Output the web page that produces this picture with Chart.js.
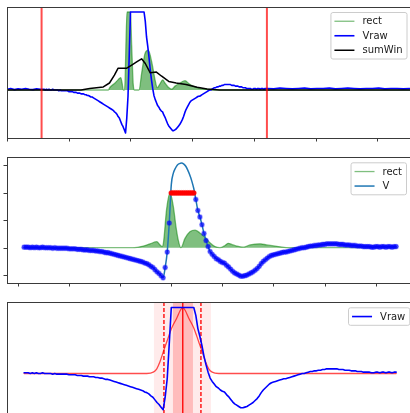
<!DOCTYPE html>
<html><head><meta charset="utf-8">
<script src="https://cdn.jsdelivr.net/npm/chart.js@4"></script>
<style>
html,body{margin:0;padding:0;width:410px;height:413px;overflow:hidden;background:#fff}
canvas{position:absolute;left:0}
</style></head><body>
<canvas id="c1" width="430" height="145" style="top:0;width:430px;height:145px"></canvas>
<canvas id="c2" width="430" height="145" style="top:145px;width:430px;height:145px"></canvas>
<canvas id="c3" width="430" height="130" style="top:290px;width:430px;height:130px"></canvas>
<script>
// ---------- data ----------
// raw signal, one value per sample, samples start at index 3 (panel 2/3 x units)
const vrawStart = 3;
const vraw = [
 0.01, 0.01, 0.01, 0.00, 0.01, 0.00, 0.01, 0.00, 0.00, 0.01,
 0.00, 0.00, 0.00, 0.00, -0.01, 0.00, -0.01, -0.01, -0.01, -0.01,
 -0.01, -0.01, -0.02, -0.02, -0.02, -0.02, -0.03, -0.03, -0.03, -0.04,
 -0.04, -0.04, -0.05, -0.05, -0.05, -0.06, -0.06, -0.07, -0.07, -0.08,
 -0.09, -0.09, -0.10, -0.11, -0.12, -0.13, -0.14, -0.15, -0.16, -0.17,
 -0.18, -0.19, -0.20, -0.21, -0.22, -0.23, -0.24, -0.25, -0.26, -0.28,
 -0.29, -0.31, -0.34, -0.36, -0.40, -0.44, -0.47, -0.51, -0.55, -0.36,
 -0.08, 0.45, 1, 1, 1, 1, 1, 1, 1, 1,
 1, 1, 1, 1, 0.88, 0.68, 0.56, 0.42, 0.26, 0.13,
 0.02, -0.07, -0.12, -0.16, -0.20, -0.22, -0.25, -0.27, -0.28, -0.32,
 -0.35, -0.39, -0.43, -0.46, -0.48, -0.50, -0.52, -0.52, -0.51, -0.50,
 -0.48, -0.46, -0.44, -0.41, -0.38, -0.34, -0.29, -0.25, -0.22, -0.19,
 -0.16, -0.14, -0.13, -0.12, -0.11, -0.10, -0.09, -0.08, -0.08, -0.07,
 -0.06, -0.05, -0.04, -0.03, -0.02, -0.01, 0.00, 0.00, 0.01, 0.02,
 0.03, 0.03, 0.04, 0.04, 0.05, 0.05, 0.06, 0.06, 0.07, 0.07,
 0.07, 0.07, 0.07, 0.07, 0.06, 0.06, 0.06, 0.05, 0.05, 0.05,
 0.04, 0.04, 0.04, 0.03, 0.03, 0.03, 0.02, 0.02, 0.02, 0.02,
 0.01, 0.01, 0.02, 0.02, 0.01, 0.02, 0.02, 0.01, 0.02, 0.02,
 0.01, 0.02, 0.02
];
const satLevel = 1;
// reconstructed values over the saturated samples
const vfitX = [75, 76, 77, 78, 79, 80, 81, 82, 83, 84, 85, 86];
const vfitY = [1.15, 1.36, 1.45, 1.51, 1.535, 1.545, 1.53, 1.49, 1.42, 1.33, 1.22, 1.08];

// panel 2 "rect"
const rect2X = [3, 56, 61.3, 64.6, 67.9, 69.5, 70.5, 71.2, 72.7, 74.4, 76, 77.3, 78.4, 79.7, 81.7, 84.1, 86.6, 89, 91.5, 93.9, 96.4, 98.8, 101.3, 102.9, 104.5, 107, 110.2, 113.5, 118.4, 121.7, 126.6, 133.1, 185.4];
const rect2Y = [0, 0, 0.03, 0.07, 0.11, 0.05, 0.02, 0.1, 0.7, 1.0, 0.75, 0.38, 0.14, 0, 0.17, 0.29, 0.32, 0.27, 0.19, 0.09, 0.02, 0, 0.04, 0.08, 0.06, 0.03, 0.01, 0.05, 0.07, 0.05, 0.025, 0, 0];

// panel 1 (own x units): window offset and the signal outside the window
const p1Offset = 25;
const p1WindowLines = [28, 210.5];
const preX = [0, 3, 6, 9, 12, 15, 18, 21, 24, 27];
const preY = [0.01, 0.02, 0.005, 0.015, 0.01, 0.02, 0.01, 0.005, 0.015, 0.01];
const postX = [211, 216, 221, 226, 231, 236, 241, 246, 251, 256, 261, 266, 271, 276, 281, 286, 291, 296, 301, 306, 311, 316, 321, 326];
const postY = [0.02, 0.015, 0.025, 0.02, 0.015, 0.02, 0.025, 0.015, 0.02, 0.02, 0.025, 0.015, 0.02, 0.025, 0.02, 0.015, 0.02, 0.02, 0.025, 0.015, 0.02, 0.02, 0.015, 0.02];
const rect1X = [0, 82, 83.4, 87.5, 89.9, 92.1, 93.1, 94.2, 95.2, 97.2, 100, 101, 102.3, 103.3, 106.9, 109.1, 111.8, 114.4, 117.2, 119.9, 121.7, 123.9, 126.1, 127.9, 130.6, 133.4, 136.1, 140.1, 144.2, 147.4, 150.9, 156.3, 161.7, 168.5, 328];
const rect1Y = [0, 0, 0.035, 0.09, 0.13, 0.16, 0.1, 0, 0, 1.0, 1.0, 0.56, 0.06, 0, 0, 0.22, 0.47, 0.51, 0.36, 0.13, 0.03, 0.08, 0.13, 0.09, 0.035, 0.01, 0.05, 0.09, 0.12, 0.08, 0.05, 0.02, 0.01, 0, 0];
const sumX = [0, 60, 67, 78, 83, 87, 90, 97, 101, 105, 109, 112, 116, 121, 125, 131, 137, 145, 154, 162, 172, 328];
const sumY = [0, 0, 0.02, 0.04, 0.09, 0.19, 0.28, 0.28, 0.32, 0.36, 0.40, 0.34, 0.22, 0.23, 0.18, 0.11, 0.09, 0.07, 0.035, 0.013, 0, 0];

// panel 3 window curve and markers
const winX = [3, 63, 66.2, 67.9, 69.5, 71.1, 72.8, 75.2, 77.7, 79.3, 80.6, 81.9, 83.5, 86, 88.4, 90.1, 91.7, 93.3, 95, 98.2, 185];
const winY = [0, 0, 0.02, 0.07, 0.18, 0.33, 0.48, 0.69, 0.84, 0.95, 1.0, 0.95, 0.84, 0.69, 0.48, 0.33, 0.18, 0.07, 0.02, 0, 0];
const p3Center = 80.6;
const p3Dashed = [71.4, 89.5];
const p3BandWide = [66.5, 94.4];
const p3BandNarrow = [75.8, 85.6];

// tick values
const p1XTicks = [0, 50, 100, 150, 200, 250, 300];
const p2XTicks = [0, 25, 50, 75, 100, 125, 150, 175];
const p2YTicks = [-0.5, 0, 0.5, 1, 1.5];

// ---------- build point lists ----------
const pts = (xs, ys) => xs.map((x, i) => ({x, y: ys[i]}));
const vrawPts = vraw.map((y, i) => ({x: vrawStart + i, y}));
const fitMap = new Map(vfitX.map((x, i) => [x, vfitY[i]]));
const vPts = vrawPts.map(p => fitMap.has(p.x) ? {x: p.x, y: fitMap.get(p.x)} : p);
const dotPts = vrawPts.filter(p => p.y < satLevel);
const satPts = vrawPts.filter(p => p.y >= satLevel);
const p1Vraw = pts(preX, preY).concat(vrawPts.map(p => ({x: p.x + p1Offset, y: p.y})), pts(postX, postY));

// ---------- plugin: frame, ticks, lines, bands, legend ----------
function drawVlines(chart, o) {
  const {ctx, chartArea: a, scales: {x}} = chart;
  (o.vlines || []).forEach(l => {
    const px = x.getPixelForValue(l.x);
    ctx.save();
    ctx.strokeStyle = l.color; ctx.lineWidth = l.width;
    ctx.setLineDash(l.dash || []);
    ctx.beginPath(); ctx.moveTo(px, a.top); ctx.lineTo(px, a.bottom); ctx.stroke();
    ctx.restore();
  });
}
const panelPlugin = {
  id: 'panel',
  beforeDatasetsDraw(chart, args, o) {
    const {ctx, chartArea: a, scales: {x}} = chart;
    ctx.save();
    (o.bands || []).forEach(b => {
      const x0 = x.getPixelForValue(b.from), x1 = x.getPixelForValue(b.to);
      ctx.fillStyle = b.color;
      ctx.fillRect(x0, a.top, x1 - x0, a.bottom - a.top);
    });
    ctx.restore();
    if (!o.linesOnTop) drawVlines(chart, o);
  },
  afterDatasetsDraw(chart, args, o) {
    const {ctx, chartArea: a, scales: {x, y}} = chart;
    if (o.linesOnTop) drawVlines(chart, o);
    ctx.save();
    ctx.strokeStyle = '#3a3a3a'; ctx.lineWidth = 1;
    ctx.strokeRect(a.left + 0.5, a.top + 0.5, a.right - a.left, a.bottom - a.top);
    ctx.beginPath();
    (o.xTicks || []).forEach(v => {
      const px = Math.round(x.getPixelForValue(v)) + 0.5;
      ctx.moveTo(px, a.bottom); ctx.lineTo(px, a.bottom + 3.5);
    });
    (o.yTicks || []).forEach(v => {
      const py = Math.round(y.getPixelForValue(v)) + 0.5;
      ctx.moveTo(a.left - 3.5, py); ctx.lineTo(a.left, py);
    });
    ctx.stroke();
    // legend
    const items = chart.data.datasets.filter(d => d.label);
    if (items.length) {
      ctx.font = '10px "DejaVu Sans"';
      const tw = Math.max(...items.map(d => ctx.measureText(d.label).width));
      const pad = 4, hl = 20, gap = 8, rowH = 9.5, sp = 5;
      const w = pad + hl + gap + tw + pad;
      const h = pad * 2 + items.length * rowH + (items.length - 1) * sp;
      const x0 = o.legendRight - w, y0 = o.legendTop;
      ctx.beginPath();
      ctx.roundRect(x0 + 0.5, y0 + 0.5, w, h, 2);
      ctx.fillStyle = 'rgba(255,255,255,0.8)'; ctx.fill();
      ctx.strokeStyle = '#cccccc'; ctx.lineWidth = 1; ctx.stroke();
      items.forEach((d, i) => {
        const cy = y0 + pad + rowH / 2 + i * (rowH + sp) + 0.5;
        ctx.strokeStyle = d.borderColor; ctx.lineWidth = d.borderWidth;
        ctx.beginPath(); ctx.moveTo(x0 + pad, cy); ctx.lineTo(x0 + pad + hl, cy); ctx.stroke();
        ctx.fillStyle = '#1a1a1a'; ctx.textBaseline = 'middle'; ctx.textAlign = 'left';
        ctx.fillText(d.label, x0 + pad + hl + gap, cy + 0.5);
      });
    }
    ctx.restore();
  }
};

function baseOptions(xmin, xmax, ymin, ymax, pad, panelOpts) {
  return {
    responsive: false, animation: false, devicePixelRatio: 1, events: [],
    layout: {padding: pad},
    scales: {
      x: {type: 'linear', display: false, min: xmin, max: xmax},
      y: {type: 'linear', display: false, min: ymin, max: ymax}
    },
    elements: {point: {radius: 0}, line: {borderCapStyle: 'round', borderJoinStyle: 'round'}},
    plugins: {legend: {display: false}, tooltip: {enabled: false}, panel: panelOpts}
  };
}

// ---------- panel 1 ----------
new Chart(document.getElementById('c1'), {
  type: 'line',
  data: {datasets: [
    {label: 'rect', data: pts(rect1X, rect1Y), borderColor: 'rgba(0,128,0,0.5)', backgroundColor: 'rgba(0,128,0,0.5)',
     borderWidth: 1.3, fill: 'origin', cubicInterpolationMode: 'monotone', order: 3},
    {label: 'Vraw', data: p1Vraw, borderColor: '#0000ff', borderWidth: 1.6, fill: false, order: 2},
    {label: 'sumWin', data: pts(sumX, sumY), borderColor: '#000000', borderWidth: 1.5, fill: false, order: 1}
  ]},
  options: baseOptions(0, 328, -0.615, 1.064, {left: 7, top: 7, right: 18, bottom: 7}, {
    xTicks: p1XTicks, linesOnTop: true,
    vlines: p1WindowLines.map(v => ({x: v, color: 'rgba(255,0,0,0.7)', width: 2})),
    legendRight: 406.5, legendTop: 12
  }),
  plugins: [panelPlugin]
});

// ---------- panel 2 ----------
new Chart(document.getElementById('c2'), {
  type: 'line',
  data: {datasets: [
    {label: 'rect', data: pts(rect2X, rect2Y), borderColor: 'rgba(0,128,0,0.5)', backgroundColor: 'rgba(0,128,0,0.5)',
     borderWidth: 1.3, fill: 'origin', cubicInterpolationMode: 'monotone', order: 4},
    {label: 'V', data: vPts, borderColor: '#1f77b4', borderWidth: 1.5, fill: false, cubicInterpolationMode: 'monotone', order: 3},
    {data: dotPts, showLine: false, pointRadius: 2.3, pointBackgroundColor: 'rgba(0,0,255,0.7)',
     pointBorderColor: 'rgba(0,0,255,0.3)', pointBorderWidth: 1.2, order: 2},
    {data: satPts, showLine: false, pointRadius: 2.5, pointBackgroundColor: 'rgba(255,0,0,0.95)',
     pointBorderColor: 'rgba(255,0,0,0.4)', pointBorderWidth: 1, order: 1}
  ]},
  options: baseOptions(-5.38, 192.76, -0.644, 1.655, {left: 7, top: 12, right: 18, bottom: 7}, {
    xTicks: p2XTicks, yTicks: p2YTicks,
    legendRight: 406, legendTop: 17.3
  }),
  plugins: [panelPlugin]
});

// ---------- panel 3 ----------
new Chart(document.getElementById('c3'), {
  type: 'line',
  data: {datasets: [
    {data: pts(winX, winY), borderColor: 'rgba(255,0,0,0.7)', borderWidth: 1.3, fill: false, cubicInterpolationMode: 'monotone', order: 2},
    {label: 'Vraw', data: vrawPts, borderColor: '#0000ff', borderWidth: 1.6, fill: false, order: 1}
  ]},
  options: baseOptions(-5.38, 192.76, -0.614, 1.083, {left: 7, top: 12, right: 18, bottom: 6}, {
    bands: [
      {from: p3BandWide[0], to: p3BandWide[1], color: 'rgba(255,0,0,0.08)'},
      {from: p3BandNarrow[0], to: p3BandNarrow[1], color: 'rgba(255,0,0,0.2)'}
    ],
    vlines: [
      {x: p3Center, color: 'rgba(255,0,0,0.9)', width: 1.5},
      {x: p3Dashed[0], color: 'rgba(255,0,0,0.9)', width: 1.5, dash: [4, 2]},
      {x: p3Dashed[1], color: 'rgba(255,0,0,0.9)', width: 1.5, dash: [4, 2]}
    ],
    legendRight: 409.3, legendTop: 17.3
  }),
  plugins: [panelPlugin]
});
</script>
</body></html>
